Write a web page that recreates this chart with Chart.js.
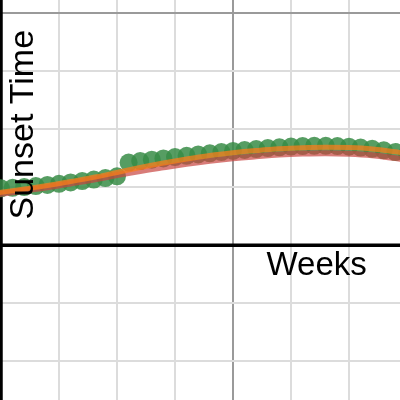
<!DOCTYPE html>
<html>
<head>
<meta charset="utf-8">
<script src="https://cdn.jsdelivr.net/npm/chart.js@4.4.1/dist/chart.umd.min.js"></script>
<style>
  html, body { margin: 0; padding: 0; background: #fff; }
  #wrap { width: 400px; height: 400px; }
</style>
</head>
<body>
<div id="wrap"><canvas id="chart" width="400" height="400"></canvas></div>
<script>
// weekly sunset readings (grid units), week 0 = start of year
const weeks = [0, 1, 2, 3, 4, 5, 6, 7, 8, 9, 10, 11, 12, 13, 14, 15, 16, 17,
  18, 19, 20, 21, 22, 23, 24, 25, 26, 27, 28, 29, 30, 31, 32, 33, 34, 35];
const sunset = [0.983, 0.991, 1.003, 1.021, 1.040, 1.060, 1.083, 1.107, 1.133, 1.160,
  1.190, 1.426, 1.452, 1.476, 1.498, 1.521, 1.543, 1.566, 1.586, 1.607, 1.626, 1.643,
  1.660, 1.676, 1.690, 1.702, 1.710, 1.716, 1.716, 1.710, 1.700, 1.684, 1.664, 1.638,
  1.607, 1.572];

// two fitted curves
const fitWeeks = [-1, 0, 2, 4, 6, 8, 10, 12, 14, 16, 18, 20, 22, 24, 26, 28, 30, 32, 34, 36];
const fitOrange = [0.888, 0.914, 0.971, 1.031, 1.100, 1.172, 1.255, 1.341, 1.419, 1.488,
  1.548, 1.595, 1.633, 1.664, 1.683, 1.691, 1.684, 1.660, 1.612, 1.557];
const fitRed = [0.862, 0.888, 0.945, 1.002, 1.066, 1.134, 1.212, 1.282, 1.345, 1.405,
  1.457, 1.500, 1.534, 1.564, 1.581, 1.588, 1.579, 1.553, 1.503, 1.448];

const xLabel = "Weeks";
const yLabel = "Sunset Time";

const pts = (xs, ys) => xs.map((x, i) => ({ x: x, y: ys[i] }));

const axesPlugin = {
  id: "axes",
  beforeDatasetsDraw(chart) {
    const { ctx, chartArea, scales } = chart;
    const x0 = scales.x.getPixelForValue(0);
    const y0 = scales.y.getPixelForValue(0);
    ctx.save();
    ctx.strokeStyle = "#000";
    ctx.lineWidth = 3.5;
    ctx.beginPath();
    ctx.moveTo(x0, chartArea.top);
    ctx.lineTo(x0, chartArea.bottom);
    ctx.moveTo(chartArea.left, y0);
    ctx.lineTo(chartArea.right, y0);
    ctx.stroke();
    ctx.restore();
  }
};

const labelPlugin = {
  id: "labels",
  afterDatasetsDraw(chart) {
    const ctx = chart.ctx;
    ctx.save();
    ctx.fillStyle = "#000";
    ctx.textBaseline = "alphabetic";
    ctx.textAlign = "left";
    ctx.font = '33px "Liberation Sans", Arial, sans-serif';
    ctx.fillText(xLabel, 266.5, 275);
    ctx.font = '34px "Liberation Sans", Arial, sans-serif';
    ctx.translate(33, 219.5);
    ctx.rotate(-Math.PI / 2);
    ctx.fillText(yLabel, 0, 0);
    ctx.restore();
  }
};

function gridColor(major) {
  return (c) => {
    const v = c.tick.value;
    if (v === 0) return "rgba(0,0,0,0)";
    return v % major === 0 ? "#9a9a9a" : "#dcdcdc";
  };
}

new Chart(document.getElementById("chart"), {
  type: "scatter",
  data: {
    datasets: [
      {
        label: "fit 2",
        data: pts(fitWeeks, fitOrange),
        showLine: true,
        borderColor: "rgba(250,126,25,0.75)",
        borderWidth: 5,
        pointRadius: 0,
        tension: 0.4,
        order: 1
      },
      {
        label: "fit 1",
        data: pts(fitWeeks, fitRed),
        showLine: true,
        borderColor: "rgba(199,68,64,0.7)",
        borderWidth: 6,
        pointRadius: 0,
        tension: 0.4,
        order: 2
      },
      {
        label: "sunset",
        data: pts(weeks, sunset),
        backgroundColor: "rgba(56,140,70,0.85)",
        borderWidth: 0,
        pointRadius: 9,
        order: 3
      }
    ]
  },
  options: {
    responsive: false,
    animation: false,
    layout: { padding: 0, autoPadding: false },
    plugins: { legend: { display: false }, tooltip: { enabled: false } },
    scales: {
      x: {
        type: "linear",
        min: -0.086,
        max: 34.397,
        ticks: { display: false, stepSize: 5, includeBounds: false },
        grid: { color: gridColor(20), lineWidth: 2, drawTicks: false },
        border: { display: false },
        afterFit: (s) => { s.height = 0; }
      },
      y: {
        type: "linear",
        min: -2.667,
        max: 4.229,
        ticks: { display: false, stepSize: 1, includeBounds: false },
        grid: { color: gridColor(4), lineWidth: 2, drawTicks: false },
        border: { display: false },
        afterFit: (s) => { s.width = 0; }
      }
    }
  },
  plugins: [axesPlugin, labelPlugin]
});
</script>
</body>
</html>
